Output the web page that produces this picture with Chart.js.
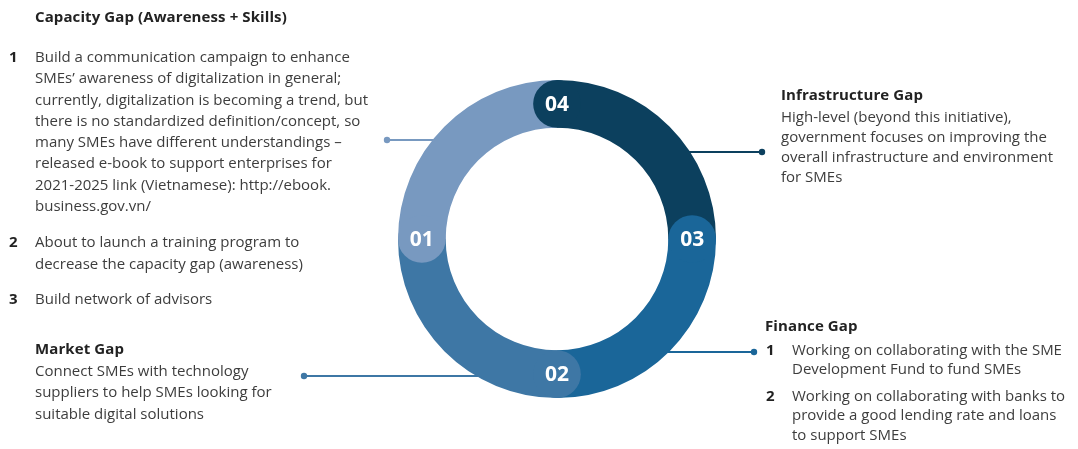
<!DOCTYPE html>
<html>
<head>
<meta charset="utf-8">
<script src="https://cdn.jsdelivr.net/npm/chart.js@4"></script>
<style>
  body { margin: 0; background: #fff; font-family: "Open Sans", "Noto Sans", sans-serif; color: #3d3d3d; }
  #wrap { position: relative; width: 1078px; height: 449px; overflow: hidden; }
  #gapChart { position: absolute; left: 0; top: 0; }
  .blk { position: absolute; font-size: 15px; line-height: 21.3px; white-space: nowrap; }
  .blk h4 { margin: 0; font-size: 15px; font-weight: 700; color: #222; letter-spacing: 0.1px; }
  .item { position: relative; padding-left: 26px; }
  .item b { position: absolute; left: 0; top: 0; color: #222; }
</style>
</head>
<body>
<div id="wrap">
  <canvas id="gapChart" width="1078" height="449"></canvas>

  <div class="blk" style="left:35px; top:6px;"><h4>Capacity Gap (Awareness + Skills)</h4></div>
  <div class="blk" style="left:9px; top:46px;">
    <div class="item"><b>1</b>Build a communication campaign to enhance<br>SMEs’ awareness of digitalization in general;<br>currently, digitalization is becoming a trend, but<br>there is no standardized definition/concept, so<br>many SMEs have different understandings –<br>released e-book to support enterprises for<br>2021-2025 link (Vietnamese): http://ebook.<br>business.gov.vn/</div>
    <div class="item" style="margin-top:15px;"><b>2</b>About to launch a training program to<br>decrease the capacity gap (awareness)</div>
    <div class="item" style="margin-top:14px;"><b>3</b>Build network of advisors</div>
  </div>

  <div class="blk" style="left:35px; top:338px; line-height:21.5px;">
    <h4>Market Gap</h4>
    Connect SMEs with technology<br>suppliers to help SMEs looking for<br>suitable digital solutions
  </div>

  <div class="blk" style="left:781px; top:84px; line-height:20px;">
    <h4 style="margin-bottom:2px;">Infrastructure Gap</h4>
    High-level (beyond this initiative),<br>government focuses on improving the<br>overall infrastructure and environment<br>for SMEs
  </div>

  <div class="blk" style="left:766px; top:316px; line-height:19.5px;">
    <h4 style="margin-left:-1px; margin-bottom:4px;">Finance Gap</h4>
    <div class="item"><b>1</b>Working on collaborating with the SME<br>Development Fund to fund SMEs</div>
    <div class="item" style="margin-top:7px;"><b>2</b>Working on collaborating with banks to<br>provide a good lending rate and loans<br>to support SMEs</div>
  </div>
</div>

<script>
// the four gaps, numbered 01..04
const gapNames = ['Capacity Gap', 'Market Gap', 'Finance Gap', 'Infrastructure Gap'];
const gapNumbers = ['01', '02', '03', '04'];
const gapShares = [25, 25, 25, 25];
const gapColors = ['#7899c0', '#3e77a5', '#1a6699', '#0c405e'];

// leader lines: y of the line and x of the end dot, per gap
const leaderY = [140, 376, 352, 152];
const leaderDotX = [387, 304, 754, 762];

// numbering runs counter-clockwise, so feed the ring in reverse from the top
const order = [3, 2, 1, 0];

const ringExtras = {
  id: 'ringExtras',
  beforeDatasetsDraw(chart) {
    const ctx = chart.ctx;
    const arc0 = chart.getDatasetMeta(0).data[0].getProps(['x', 'y', 'outerRadius'], true);
    ctx.save();
    order.forEach((gi) => {
      const y = leaderY[gi];
      const dy = y - arc0.y;
      const half = Math.sqrt(arc0.outerRadius * arc0.outerRadius - dy * dy);
      const dotX = leaderDotX[gi];
      const ringX = dotX < arc0.x ? arc0.x - half + 2 : arc0.x + half - 2;
      ctx.strokeStyle = gapColors[gi];
      ctx.fillStyle = gapColors[gi];
      ctx.lineWidth = 2;
      ctx.beginPath();
      ctx.moveTo(dotX, y);
      ctx.lineTo(ringX, y);
      ctx.stroke();
      ctx.beginPath();
      ctx.arc(dotX, y, 3.2, 0, Math.PI * 2);
      ctx.fill();
    });
    ctx.restore();
  },
  afterDatasetsDraw(chart) {
    const ctx = chart.ctx;
    const meta = chart.getDatasetMeta(0);
    ctx.save();
    // round cap at the start of every segment, laid over the previous one
    meta.data.forEach((arc, i) => {
      const p = arc.getProps(['x', 'y', 'startAngle', 'innerRadius', 'outerRadius'], true);
      const mid = (p.innerRadius + p.outerRadius) / 2;
      const r = (p.outerRadius - p.innerRadius) / 2;
      const cx = p.x + Math.cos(p.startAngle) * mid;
      const cy = p.y + Math.sin(p.startAngle) * mid;
      ctx.fillStyle = arc.options.backgroundColor;
      ctx.beginPath();
      ctx.arc(cx, cy, r, 0, Math.PI * 2);
      ctx.fill();
      ctx.fillStyle = '#ffffff';
      ctx.font = 'bold 21px "Open Sans", sans-serif';
      ctx.textAlign = 'center';
      ctx.textBaseline = 'middle';
      ctx.fillText(chart.data.labels[i], cx, cy + 1);
    });
    ctx.restore();
  }
};

new Chart(document.getElementById('gapChart'), {
  type: 'doughnut',
  data: {
    labels: order.map(i => gapNumbers[i]),
    datasets: [{
      data: order.map(i => gapShares[i]),
      backgroundColor: order.map(i => gapColors[i]),
      borderWidth: 0
    }]
  },
  options: {
    responsive: false,
    animation: false,
    cutout: '70%',
    rotation: 0,
    layout: { padding: { left: 398, top: 80, right: 362, bottom: 51 } },
    plugins: { legend: { display: false }, tooltip: { enabled: false } }
  },
  plugins: [ringExtras]
});
</script>
</body>
</html>
